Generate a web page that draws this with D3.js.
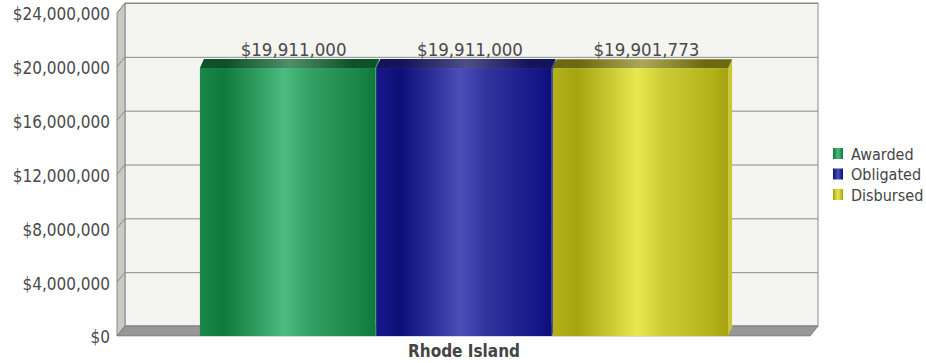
<!DOCTYPE html>
<html>
<head>
<meta charset="utf-8">
<script src="https://cdn.jsdelivr.net/npm/d3@7"></script>
<style>
  html, body { margin: 0; padding: 0; background: #ffffff; }
  svg { display: block; font-family: "DejaVu Sans Condensed", "Noto Sans", sans-serif; }
</style>
</head>
<body>
<svg id="chart" width="926" height="363"></svg>
<script>
// ---- data ----
const categories = ["Rhode Island"];
const seriesNames = ["Awarded", "Obligated", "Disbursed"];
const awarded = [19911000];
const obligated = [19911000];
const disbursed = [19901773];
const yTicks = [0, 4000000, 8000000, 12000000, 16000000, 20000000, 24000000];

const seriesValues = [awarded, obligated, disbursed];
const palette = {
  Awarded:   { dark: "#0f7a3b", light: "#4dbc80", edge: "#1a8647", topDark: "#0d5229", topLight: "#4f8e68", side: "#2f9a5c" },
  Obligated: { dark: "#0e0e78", light: "#4b4fb6", edge: "#17178a", topDark: "#14145a", topLight: "#4e4e86", side: "#3434a8" },
  Disbursed: { dark: "#a6a410", light: "#eae84e", edge: "#b4b21a", topDark: "#6c6a10", topLight: "#aaa856", side: "#c9c734" }
};

const svg = d3.select("#chart");
const defs = svg.append("defs");
const FONT = '"DejaVu Sans Condensed", "Noto Sans", sans-serif';

// geometry of the 3D frame
const wallDX = 8, wallDY = 10;
const frontLeft = 117, frontRight = 810;
const yFront = d3.scaleLinear().domain([0, 24000000]).range([336, 13]);
const yBack = d3.scaleLinear().domain([0, 24000000]).range([336 - wallDY, 13 - wallDY]);

const xCat = d3.scaleBand().domain(categories).range([frontLeft, frontRight + 1]).padding(0);
const xSer = d3.scaleBand().domain(seriesNames).range([0, xCat.bandwidth()]).paddingInner(0.006).paddingOuter(0.47);

const barDX = 4, barDY = 9;

// gradients
seriesNames.forEach((s, i) => {
  const c = palette[s];
  const g = defs.append("linearGradient").attr("id", "front" + i).attr("x1", "0").attr("x2", "1").attr("y1", "0").attr("y2", "0");
  [[0, c.edge], [0.14, c.dark], [0.3, d3.interpolateRgb(c.dark, c.light)(0.45)], [0.48, c.light], [0.62, d3.interpolateRgb(c.dark, c.light)(0.6)], [0.9, c.edge], [1, c.dark]]
    .forEach(([o, col]) => g.append("stop").attr("offset", o).attr("stop-color", col));
  const t = defs.append("linearGradient").attr("id", "top" + i).attr("x1", "0").attr("x2", "1").attr("y1", "0").attr("y2", "0");
  [[0, c.topDark], [0.15, c.topDark], [0.5, c.topLight], [0.85, c.topDark], [1, c.topDark]]
    .forEach(([o, col]) => t.append("stop").attr("offset", o).attr("stop-color", col));
  const l = defs.append("linearGradient").attr("id", "leg" + i).attr("x1", "0").attr("x2", "1").attr("y1", "0").attr("y2", "0");
  [[0, c.dark], [0.5, c.light], [1, c.dark]]
    .forEach(([o, col]) => l.append("stop").attr("offset", o).attr("stop-color", col));
});

// back wall
svg.append("rect")
  .attr("x", frontLeft + wallDX).attr("y", yBack(24000000))
  .attr("width", (frontRight + wallDX) - (frontLeft + wallDX)).attr("height", yBack(0) - yBack(24000000))
  .attr("fill", "#f4f4f0").attr("stroke", "#8a8a8a").attr("stroke-width", 1);

// left wall
svg.append("polygon")
  .attr("points", [
    [frontLeft, yFront(0)], [frontLeft + wallDX, yBack(0)],
    [frontLeft + wallDX, yBack(24000000)], [frontLeft, yFront(24000000)]
  ].map(p => p.join(",")).join(" "))
  .attr("fill", "#c9c9c3").attr("stroke", "#8a8a8a").attr("stroke-width", 1);

// gridlines
yTicks.filter(t => t > 0).forEach(t => {
  svg.append("line")
    .attr("x1", frontLeft + wallDX).attr("x2", frontRight + wallDX)
    .attr("y1", yBack(t) + 0.5).attr("y2", yBack(t) + 0.5)
    .attr("stroke", "#8a8a8a").attr("stroke-width", 1);
  svg.append("line")
    .attr("x1", frontLeft).attr("x2", frontLeft + wallDX)
    .attr("y1", yFront(t)).attr("y2", yBack(t))
    .attr("stroke", "#8a8a8a").attr("stroke-width", 1);
});

// floor
svg.append("polygon")
  .attr("points", [
    [frontLeft, yFront(0)], [frontLeft + wallDX, yBack(0)],
    [frontRight + wallDX, yBack(0)], [frontRight, yFront(0)]
  ].map(p => p.join(",")).join(" "))
  .attr("fill", "#979797").attr("stroke", "#7a7a7a").attr("stroke-width", 1);
svg.append("line")
  .attr("x1", frontLeft).attr("x2", frontRight)
  .attr("y1", yFront(0) + 0.5).attr("y2", yFront(0) + 0.5)
  .attr("stroke", "#d8d8d8");

// y axis
const yAxis = d3.axisLeft(yFront).tickValues(yTicks).tickSize(0).tickPadding(0)
  .tickFormat(d => "$" + d3.format(",")(d));
const ax = svg.append("g").attr("transform", "translate(110,1.5)").call(yAxis);
ax.select(".domain").remove();
ax.selectAll("text").attr("font-size", 17).attr("fill", "#4a4a4a")
  .attr("font-family", FONT);

// bars
categories.forEach((cat, ci) => {
  seriesNames.forEach((s, si) => {
    const v = seriesValues[si][ci];
    const x0 = xCat(cat) + xSer(s);
    const w = xSer.bandwidth();
    const yt = yFront(v), yb = yFront(0);
    const g = svg.append("g");
    // side face
    g.append("polygon")
      .attr("points", [[x0 + w, yt], [x0 + w + barDX, yt - barDY], [x0 + w + barDX, yb - barDY], [x0 + w, yb]].map(p => p.join(",")).join(" "))
      .attr("fill", palette[s].side);
    // top face
    g.append("polygon")
      .attr("points", [[x0, yt], [x0 + barDX, yt - barDY], [x0 + w + barDX, yt - barDY], [x0 + w, yt]].map(p => p.join(",")).join(" "))
      .attr("fill", `url(#top${si})`);
    // front face
    g.append("rect").attr("x", x0).attr("y", yt).attr("width", w).attr("height", yb - yt)
      .attr("fill", `url(#front${si})`);
    // value label
    g.append("text")
      .attr("x", x0 + w / 2 + 6).attr("y", yt - 12)
      .attr("text-anchor", "middle").attr("font-size", 18.5).attr("fill", "#4a4a4a")
      .text("$" + d3.format(",")(v));
  });
  // category label
  svg.append("text")
    .attr("x", xCat(cat) + xCat.bandwidth() / 2).attr("y", 357)
    .attr("text-anchor", "middle").attr("font-size", 17).attr("font-weight", "bold").attr("fill", "#444")
    .text(cat);
});

// legend
const legend = svg.append("g").attr("transform", "translate(833,148)");
seriesNames.forEach((s, i) => {
  const row = legend.append("g").attr("transform", `translate(0,${i * 20.5})`);
  row.append("rect").attr("x", 0).attr("y", 0).attr("width", 10).attr("height", 11)
    .attr("fill", `url(#leg${i})`);
  row.append("text").attr("x", 18).attr("y", 6).attr("dy", "0.35em")
    .attr("font-size", 16).attr("fill", "#444").text(s);
});
</script>
</body>
</html>
